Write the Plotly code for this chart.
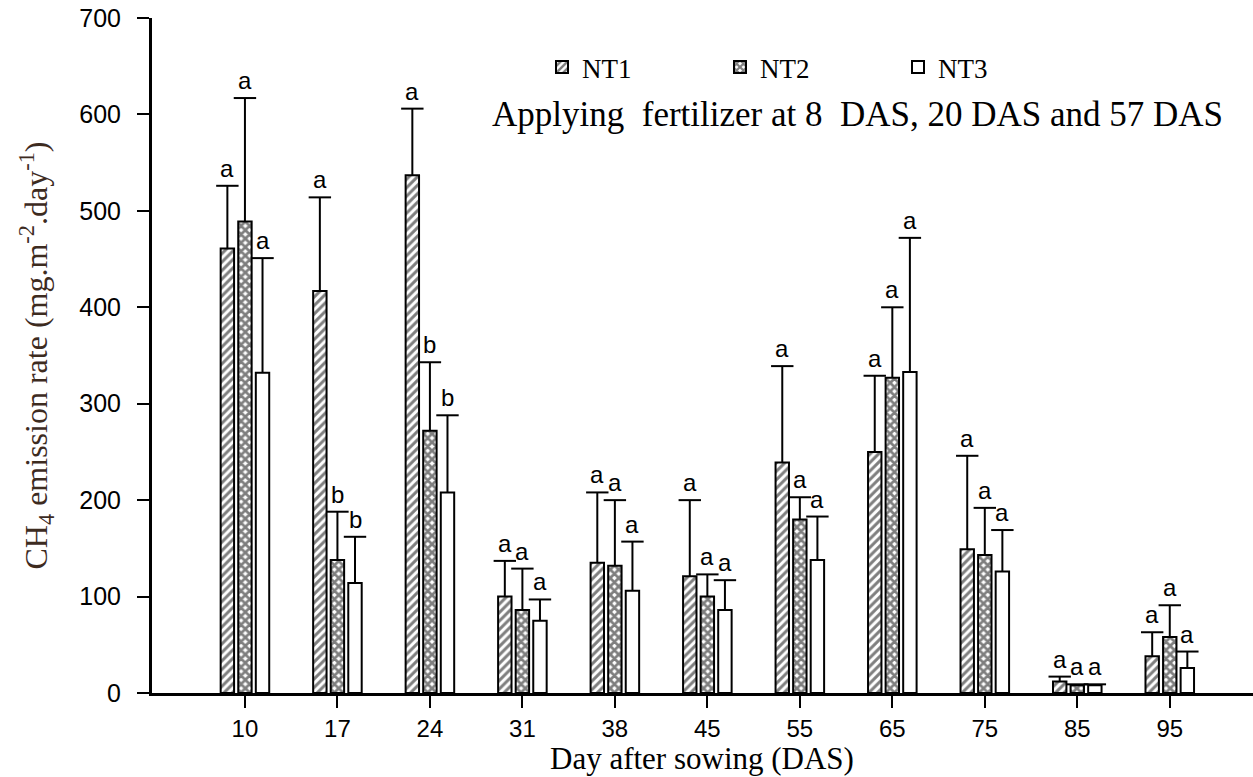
import plotly.graph_objects as go

days = ["10", "17", "24", "31", "38", "45", "55", "65", "75", "85", "95"]
nt1 = [461, 417, 537, 100, 135, 121, 239, 250, 149, 12, 38]
nt1_hi = [526, 514, 606, 137, 208, 200, 339, 329, 246, 17, 63]
nt2 = [489, 138, 272, 86, 132, 100, 180, 327, 143, 8, 58]
nt2_hi = [617, 188, 343, 129, 200, 123, 203, 400, 192, 9, 91]
nt3 = [332, 114, 208, 75, 106, 86, 138, 333, 126, 8, 26]
nt3_hi = [451, 162, 288, 97, 157, 117, 183, 472, 169, 9, 43]
let_nt1 = ["a", "a", "a", "a", "a", "a", "a", "a", "a", "a", "a"]
let_nt2 = ["a", "b", "b", "a", "a", "a", "a", "a", "a", "a", "a"]
let_nt3 = ["a", "b", "b", "a", "a", "a", "a", "a", "a", "a", "a"]
series_names = ["NT1", "NT2", "NT3"]
y_ticks = [0, 100, 200, 300, 400, 500, 600, 700]

SERIF = "Liberation Serif, Times New Roman, serif"
SANS = "Liberation Sans, Arial, sans-serif"

SLOT = 0.19          # distance between bar centres in a group (category units)
BAR_W = 0.145        # bar width (category units)

W, H = 1253, 777
ML, MT, MB = 152, 18, 84
PW, PH = W - ML, H - MT - MB   # plot area size (1101 x 675)


def px_x(px):
    """screen px -> paper x"""
    return (px - ML) / PW


def px_y(py):
    """screen px -> paper y"""
    return (H - MB - py) / PH


series = [
    (series_names[0], nt1, nt1_hi, let_nt1, dict(shape="/", fgcolor="black", bgcolor="white", size=6, solidity=0.5)),
    (series_names[1], nt2, nt2_hi, let_nt2, dict(shape="x", fgcolor="black", bgcolor="white", size=6, solidity=0.7)),
    (series_names[2], nt3, nt3_hi, let_nt3, dict(shape="", fgcolor="black", bgcolor="white")),
]

xpos = list(range(len(days)))
fig = go.Figure()
annotations = []
for k, (name, vals, hi, lets, pat) in enumerate(series):
    off = (k - 1) * SLOT
    xs = [i + off for i in xpos]
    err = [h - v for h, v in zip(hi, vals)]
    fig.add_trace(go.Bar(
        name=name, x=xs, y=vals, width=BAR_W,
        marker=dict(color="white", line=dict(color="black", width=2), pattern=pat),
        error_y=dict(type="data", symmetric=False, array=err, arrayminus=[0] * len(err),
                     color="black", thickness=2, width=0),
    ))
    # caps of the one-sided error bars
    fig.add_trace(go.Scatter(
        x=xs, y=hi, mode="markers", showlegend=False, hoverinfo="skip",
        marker=dict(symbol="line-ew", size=16, color="black", line=dict(color="black", width=2)),
    ))
    for x, h, t in zip(xs, hi, lets):
        annotations.append(dict(
            x=x, y=h, xref="x", yref="y", text=t, showarrow=False,
            yanchor="bottom", yshift=2, font=dict(family=SANS, size=24, color="black"),
        ))

annotations.append(dict(
    x=px_x(490), y=px_y(115), xref="paper", yref="paper",
    xanchor="left", yanchor="middle", showarrow=False,
    text="Applying  fertilizer at 8  DAS, 20 DAS and 57 DAS",
    font=dict(family=SERIF, size=35, color="black"),
))
annotations.append(dict(
    x=px_x(702), y=px_y(758), xref="paper", yref="paper",
    xanchor="center", yanchor="middle", showarrow=False,
    text="Day after sowing (DAS)",
    font=dict(family=SERIF, size=31, color="black"),
))
annotations.append(dict(
    x=px_x(36), y=0.5, xref="paper", yref="paper",
    xanchor="center", yanchor="middle", showarrow=False, textangle=-90,
    text="CH<sub>4</sub> emission rate (mg.m<sup>-2</sup>.day<sup>-1</sup>)",
    font=dict(family=SERIF, size=32, color="#3d2b1f"),
))

fig.update_layout(
    width=W, height=H,
    margin=dict(l=ML, r=0, t=MT, b=MB),
    paper_bgcolor="white", plot_bgcolor="white",
    barmode="overlay",
    annotations=annotations,
    legend=dict(
        orientation="h", x=px_x(542), y=px_y(43),
        xanchor="left", yanchor="top",
        font=dict(family=SERIF, size=27, color="black"),
        entrywidth=133, entrywidthmode="pixels",
        bgcolor="rgba(0,0,0,0)",
    ),
    showlegend=True,
)

fig.update_xaxes(
    range=[-1.005, 10.9], tickvals=xpos, ticktext=days, automargin=False,
    showline=True, linecolor="black", linewidth=3,
    ticks="outside", ticklen=12, tickwidth=2, tickcolor="black",
    showgrid=False, zeroline=False, ticklabelstandoff=0,
    tickfont=dict(family=SANS, size=24, color="black"),
)
fig.update_yaxes(
    range=[0, 700], tickvals=y_ticks, automargin=False,
    showline=True, linecolor="black", linewidth=3,
    ticks="outside", ticklen=12, tickwidth=2, tickcolor="black",
    showgrid=False, zeroline=False, ticklabelstandoff=11,
    tickfont=dict(family=SANS, size=25, color="black"),
)

# remove the browser's default 8px page margin so the figure sits at the window origin
fig.write_html("out.html", config={"displayModeBar": False},
               post_script="document.body.style.margin='0px';")
